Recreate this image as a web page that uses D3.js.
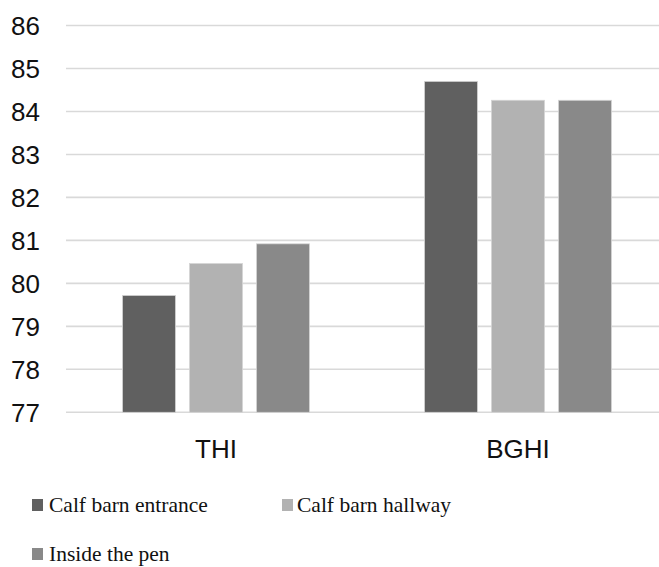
<!DOCTYPE html>
<html>
<head>
<meta charset="utf-8">
<script src="https://cdn.jsdelivr.net/npm/d3@7"></script>
<style>
  html, body { margin: 0; padding: 0; background: #fff; }
  svg { display: block; }
</style>
</head>
<body>
<svg id="chart" width="659" height="567"></svg>
<script>
const categories = ["THI", "BGHI"];
const seriesNames = ["Calf barn entrance", "Calf barn hallway", "Inside the pen"];
const entranceValues = [79.72, 84.70];
const hallwayValues = [80.46, 84.26];
const penValues = [80.92, 84.26];
const yTicks = [77, 78, 79, 80, 81, 82, 83, 84, 85, 86];
const seriesColors = ["#606060", "#b2b2b2", "#898989"];

const seriesValues = [entranceValues, hallwayValues, penValues];

const svg = d3.select("#chart");
const W = 659;

const y = d3.scaleLinear().domain([77, 86]).range([412.3, 25.5]);
const x0 = d3.scaleBand().domain(categories).range([65, 669]).paddingInner(0).paddingOuter(0);
const groupW = 187;
const x1 = d3.scaleBand().domain(seriesNames).range([0, groupW]).paddingInner(14 / 67).paddingOuter(0);
const groupOffset = (x0.bandwidth() - groupW) / 2;

// gridlines
const yAxis = d3.axisLeft(y).tickValues(yTicks).tickSize(0).tickPadding(0);
const grid = svg.append("g");
grid.selectAll("line").data(yTicks).join("line")
  .attr("x1", 66).attr("x2", W)
  .attr("y1", d => y(d)).attr("y2", d => y(d))
  .attr("stroke", "#d9d9d9").attr("stroke-width", 1.6);

// y axis labels
const gy = svg.append("g").attr("transform", "translate(40,0)").call(yAxis);
gy.select(".domain").remove();
gy.selectAll("text")
  .attr("font-family", "'Liberation Sans', Arial, sans-serif")
  .attr("font-size", 26)
  .attr("fill", "#111")
  .attr("text-anchor", "end")
  .attr("dy", "0.35em");

// bars
const data = [];
categories.forEach((c, i) => {
  seriesNames.forEach((s, j) => {
    data.push({ cat: c, series: s, value: seriesValues[j][i], color: seriesColors[j] });
  });
});
svg.append("g").selectAll("rect").data(data).join("rect")
  .attr("x", d => x0(d.cat) + groupOffset + x1(d.series))
  .attr("y", d => y(d.value))
  .attr("width", x1.bandwidth())
  .attr("height", d => y(77) - y(d.value))
  .attr("fill", d => d.color)
  .attr("stroke", "#d4d4d4")
  .attr("stroke-width", 0.8);

// x axis labels
const xAxis = d3.axisBottom(x0).tickSize(0).tickPadding(0);
const gx = svg.append("g").attr("transform", "translate(0,458)").call(xAxis);
gx.select(".domain").remove();
gx.selectAll("text")
  .attr("font-family", "'Liberation Sans', Arial, sans-serif")
  .attr("font-size", 26)
  .attr("fill", "#111")
  .attr("dy", 0)
  .attr("y", 0);

// legend
const legendPos = [
  { x: 32, y: 511.5, tx: 49 },
  { x: 282, y: 511.5, tx: 297 },
  { x: 32, y: 560.5, tx: 49 }
];
const legend = svg.append("g");
seriesNames.forEach((s, i) => {
  const p = legendPos[i];
  legend.append("rect")
    .attr("x", p.x).attr("y", p.y - 12.5)
    .attr("width", 11).attr("height", 12)
    .attr("fill", seriesColors[i]);
  legend.append("text")
    .attr("x", p.tx).attr("y", p.y)
    .attr("font-family", "'Liberation Serif', 'Times New Roman', serif")
    .attr("font-size", 21.5)
    .attr("fill", "#111")
    .text(s);
});
</script>
</body>
</html>
